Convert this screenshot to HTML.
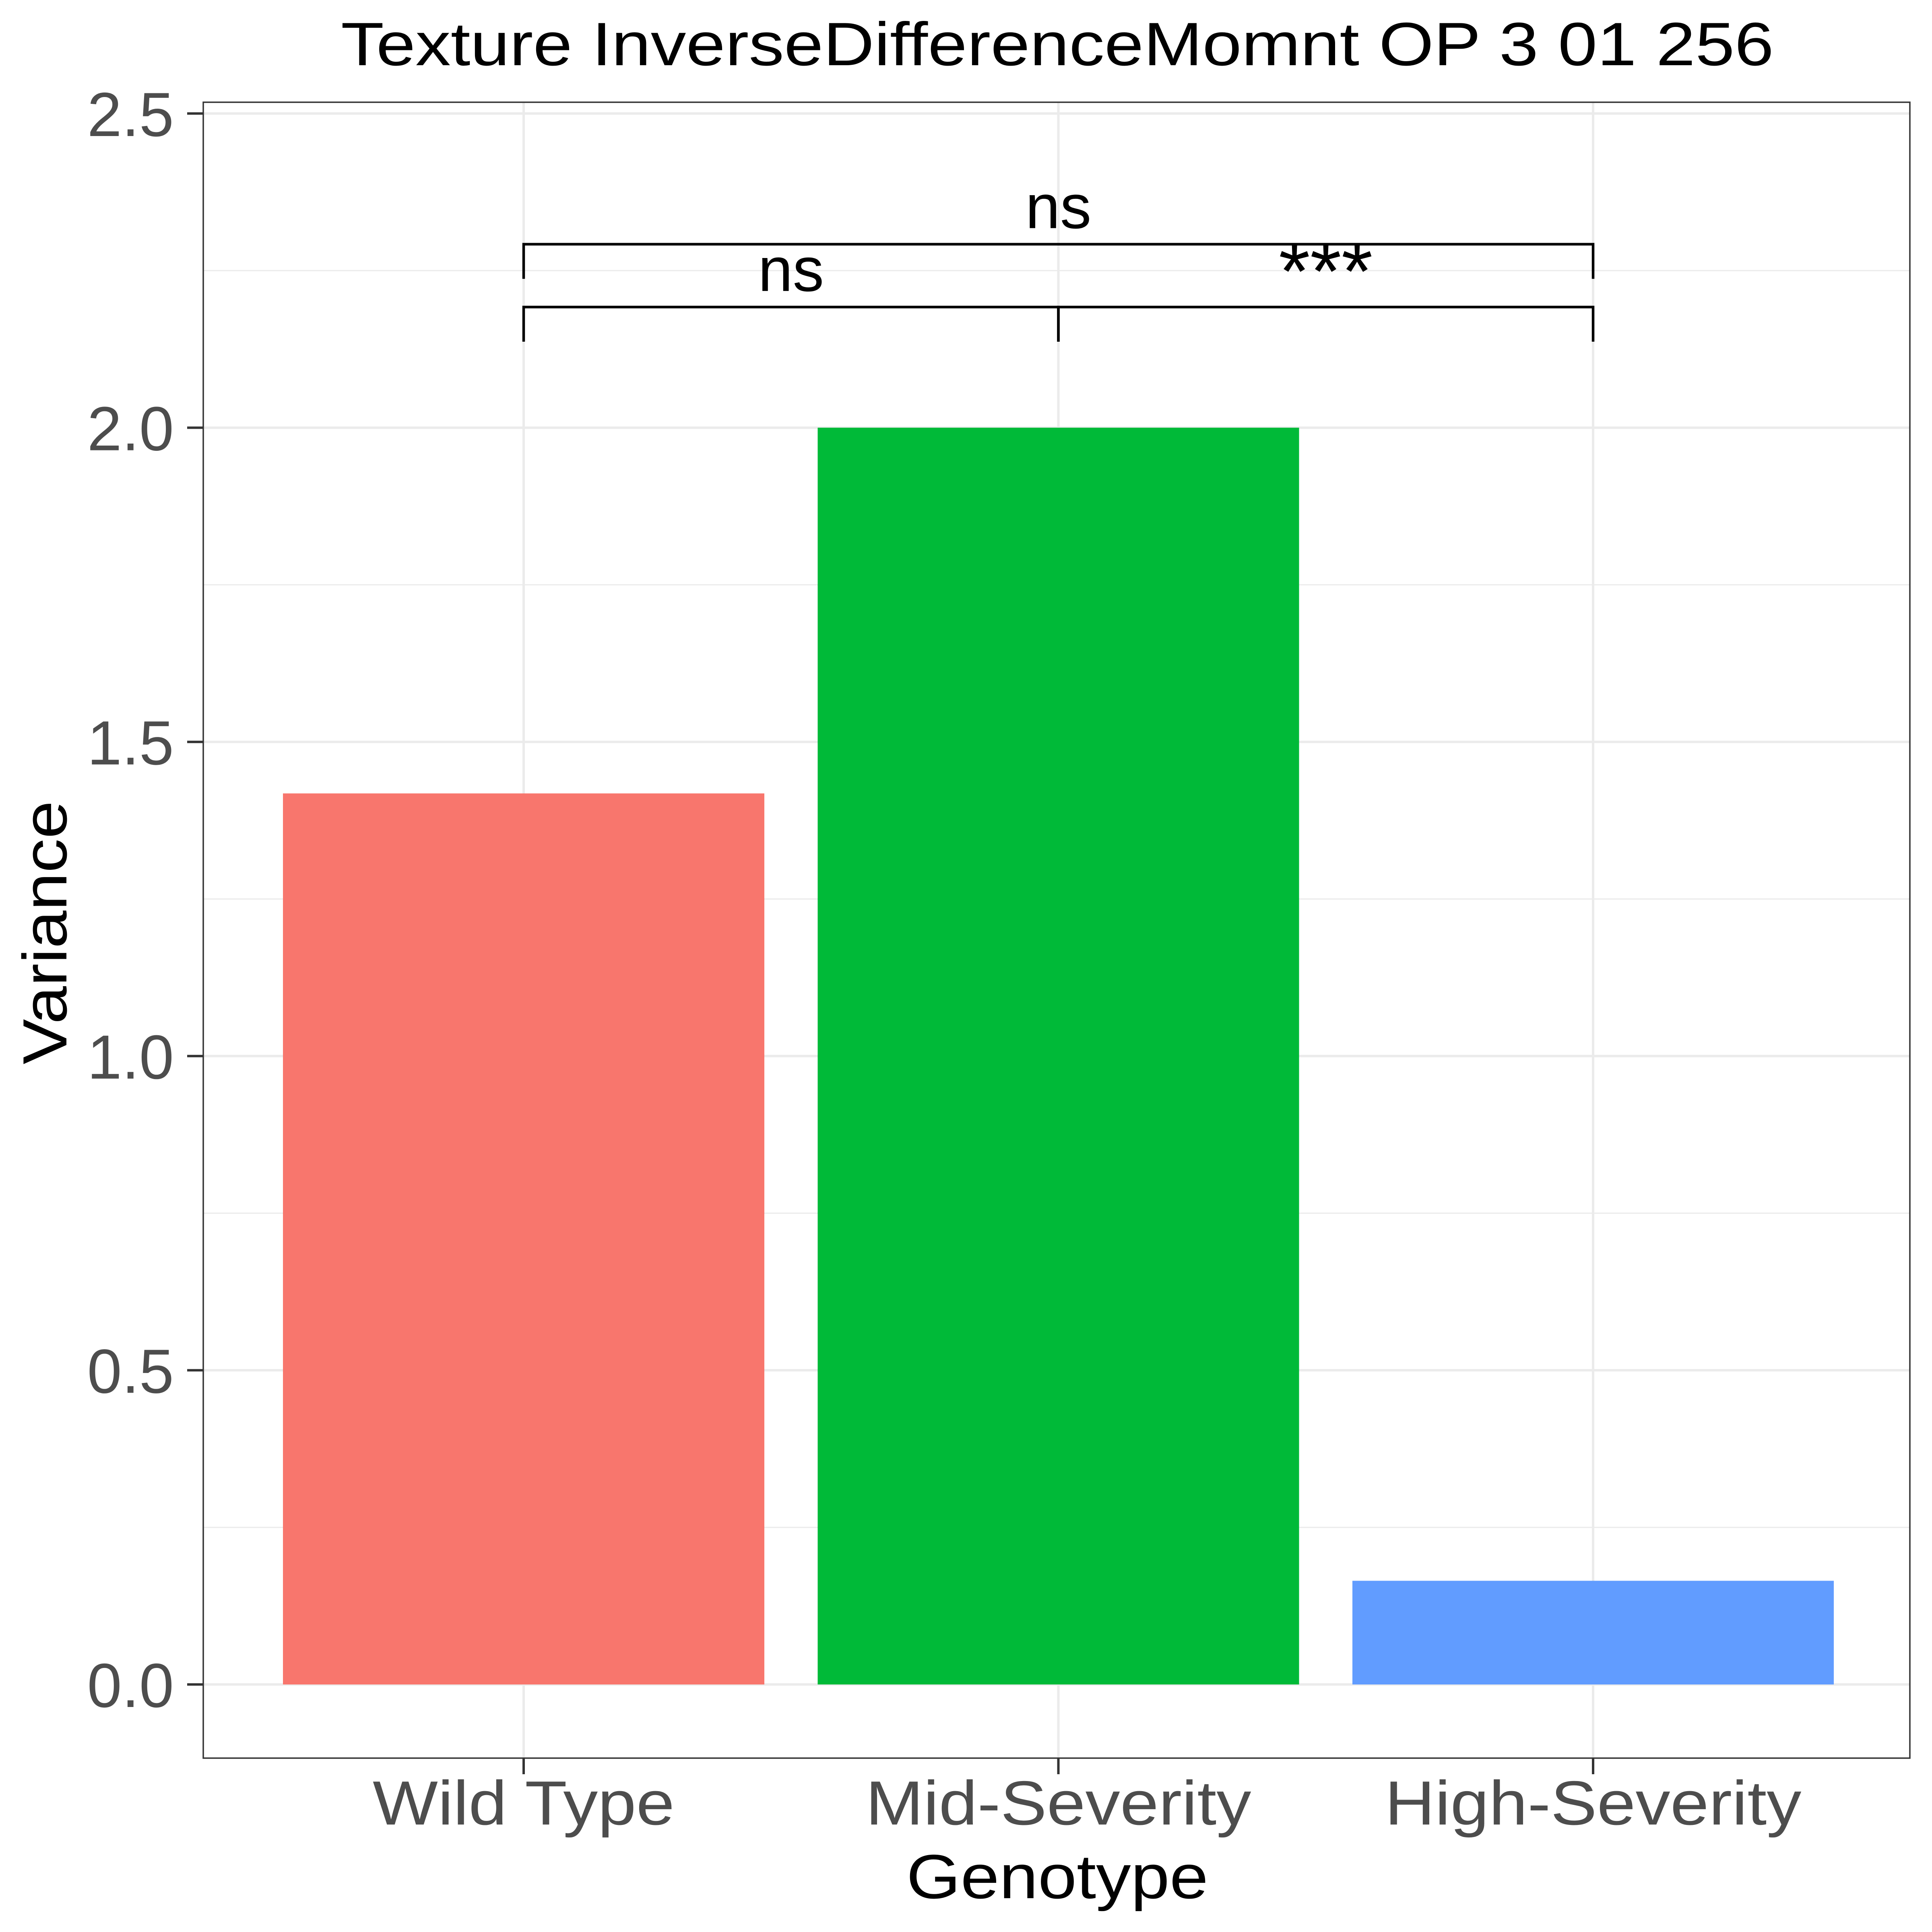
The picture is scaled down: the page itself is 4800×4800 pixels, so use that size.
<!DOCTYPE html>
<html><head><meta charset="utf-8"><style>
html,body{margin:0;padding:0;background:#fff;}
svg{display:block;font-family:"Liberation Sans",sans-serif;}
</style></head><body>
<svg id="chart" width="4800" height="4800" viewBox="0 0 4800 4800" xmlns="http://www.w3.org/2000/svg">
<rect width="4800" height="4800" fill="#fff"/>
<g id="grid"></g>
<g id="bars"></g>
<g id="brackets"></g>
<rect x="505" y="254" width="4240" height="4114" fill="none" stroke="#333" stroke-width="3.5"/>
<g id="axes"></g>
<text x="2627" y="162" font-size="152" text-anchor="middle" fill="#000" textLength="3560" lengthAdjust="spacingAndGlyphs">Texture InverseDifferenceMomnt OP 3 01 256</text>
<text x="2627" y="4716" font-size="155" text-anchor="middle" fill="#000" textLength="750" lengthAdjust="spacingAndGlyphs">Genotype</text>
<text transform="translate(165,2317) rotate(-90)" font-size="155" text-anchor="middle" fill="#000" textLength="655" lengthAdjust="spacingAndGlyphs">Variance</text>
</svg>
<script>
const categories = ["Wild Type", "Mid-Severity", "High-Severity"];
const values = [1.418, 2.0, 0.165];
const colors = ["#F8766D", "#00BA38", "#619CFF"];
const yTicks = [0, 0.5, 1.0, 1.5, 2.0, 2.5];
const yTickLabels = ["0.0", "0.5", "1.0", "1.5", "2.0", "2.5"];
const yMinor = [0.25, 0.75, 1.25, 1.75, 2.25];
const compFrom = [0, 1, 0];
const compTo = [1, 2, 2];
const compY = [2.192, 2.192, 2.292];
const compLabel = ["ns", "***", "ns"];
const xLabelLen = [750, 958, 1035];

const NS = "http://www.w3.org/2000/svg";
const y0px = 4185, unit = 1561.2;
function yScale(v){ return y0px - v*unit; }
function xScale(i){ return 1301 + i*1328.5; }
const bw = 1196;
function mk(tag, attrs, parent){ const e=document.createElementNS(NS,tag); for(const k in attrs) e.setAttribute(k,attrs[k]); parent.appendChild(e); return e; }
const grid=document.getElementById('grid'), bars=document.getElementById('bars'), br=document.getElementById('brackets'), axes=document.getElementById('axes');

yMinor.forEach(v=>{
  const l=mk('line',{x1:505,x2:4745,y1:yScale(v),y2:yScale(v),stroke:'#ebebeb','stroke-width':3},grid);
  
  
});
yTicks.forEach((v,i)=>{
  const l=mk('line',{x1:505,x2:4745,y1:yScale(v),y2:yScale(v),stroke:'#ebebeb','stroke-width':6},grid);
  
  
  const t=mk('line',{x1:465,x2:505,y1:yScale(v),y2:yScale(v),stroke:'#333','stroke-width':6},axes);
  
  
  const tx=mk('text',{x:432,y:yScale(v)+56,'font-size':155,'text-anchor':'end',fill:'#4d4d4d'},axes);
  tx.textContent=yTickLabels[i];
  
  
});
categories.forEach((c,i)=>{
  const g=mk('line',{x1:xScale(i),x2:xScale(i),y1:254,y2:4368,stroke:'#ebebeb','stroke-width':6},grid);
  
  
  const r=mk('rect',{x:xScale(i)-bw/2,y:yScale(values[i]),width:bw,height:yScale(0)-yScale(values[i]),fill:colors[i]},bars);
  
  
  const t=mk('line',{x1:xScale(i),x2:xScale(i),y1:4368,y2:4408,stroke:'#333','stroke-width':6},axes);
  
  
  const tx=mk('text',{x:xScale(i),y:4533,'font-size':155,'text-anchor':'middle',fill:'#4d4d4d',textLength:xLabelLen[i],lengthAdjust:'spacingAndGlyphs'},axes);
  tx.textContent=c;
  
  
});
compFrom.forEach((f,i)=>{
  const yy=yScale(compY[i]), x1=xScale(f), x2=xScale(compTo[i]), drop=86;
  const p=mk('path',{d:`M${x1},${yy+drop}V${yy}H${x2}V${yy+drop}`,fill:'none',stroke:'#000','stroke-width':6.5},br);
  
  
  const star = compLabel[i]==='***';
  const tx=mk('text',{x:(x1+x2)/2,y:star?yy-20:yy-40,'font-size':star?200:155,'text-anchor':'middle',fill:'#000'},br);
  tx.textContent=compLabel[i];
  
  
});
</script>
</body></html>
